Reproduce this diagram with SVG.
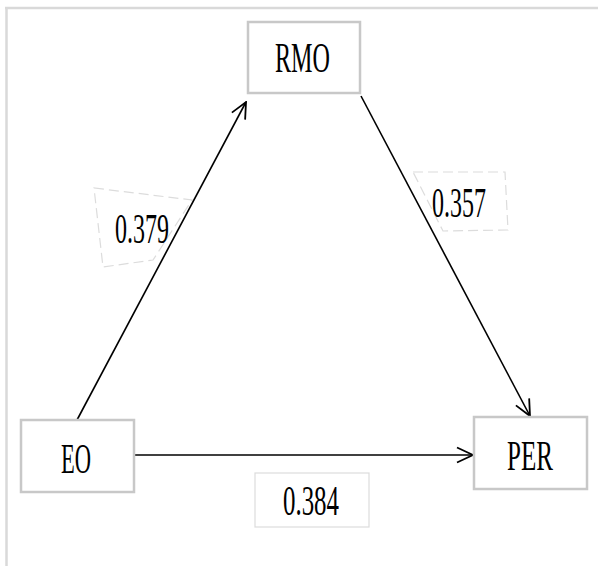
<svg xmlns="http://www.w3.org/2000/svg" width="598" height="566" viewBox="0 0 598 566">
  <style>
    .node rect { fill: #ffffff; stroke: #c8c8c8; stroke-width: 2.5; }
    .lbl { font-family: "Liberation Serif", "Times New Roman", serif; font-size: 42px; fill: #000000; text-anchor: middle; }
    .edge { stroke: #000000; stroke-width: 1.6; fill: none; }
    .lblbox { fill: #ffffff; stroke: #dcdcdc; stroke-width: 1.2; }
    .dash { stroke-dasharray: 10 5; }
  </style>
  <defs>
    <marker id="arr" viewBox="0 0 18 18" refX="17" refY="9" markerWidth="18" markerHeight="18" markerUnits="userSpaceOnUse" orient="auto">
      <path d="M1,1.5 L17,9 L1,16.5" fill="none" stroke="#000000" stroke-width="1.8"/>
    </marker>
  </defs>
  <rect width="598" height="566" fill="#ffffff"/>
  <g id="frame" fill="none" stroke="#d9d9d9" stroke-width="2.5">
    <line x1="5" y1="8" x2="598" y2="8"/>
    <line x1="6.5" y1="8" x2="6.5" y2="566"/>
  </g>
  <g id="label-0379">
    <polygon class="lblbox dash" points="94,188 192,200 153,260 103,267"/>
    <text class="lbl" x="142" y="243" textLength="54" lengthAdjust="spacingAndGlyphs">0.379</text>
  </g>
  <g id="label-0357">
    <polygon class="lblbox dash" points="413,172 505,172 508,230 443,231"/>
    <text class="lbl" x="459" y="217" textLength="54" lengthAdjust="spacingAndGlyphs">0.357</text>
  </g>
  <g id="label-0384">
    <rect class="lblbox" x="255" y="473" width="114" height="54"/>
    <text class="lbl" x="311" y="515" textLength="56" lengthAdjust="spacingAndGlyphs">0.384</text>
  </g>
  <g id="connectors">
    <line class="edge" x1="77" y1="420" x2="246" y2="102" marker-end="url(#arr)"/>
    <line class="edge" x1="361" y1="96" x2="530" y2="416" marker-end="url(#arr)"/>
    <line class="edge" x1="134" y1="455" x2="473" y2="455" stroke-width="2.2" marker-end="url(#arr)"/>
  </g>
  <g id="RMO" class="node">
    <rect x="248" y="22" width="112" height="71"/>
    <text class="lbl" x="302.5" y="72" textLength="55" lengthAdjust="spacingAndGlyphs">RMO</text>
  </g>
  <g id="EO" class="node">
    <rect x="21" y="420" width="113" height="72"/>
    <text class="lbl" x="76" y="473" textLength="30" lengthAdjust="spacingAndGlyphs">EO</text>
  </g>
  <g id="PER" class="node">
    <rect x="474" y="417" width="113" height="72"/>
    <text class="lbl" x="530" y="470" textLength="46" lengthAdjust="spacingAndGlyphs">PER</text>
  </g>
</svg>
